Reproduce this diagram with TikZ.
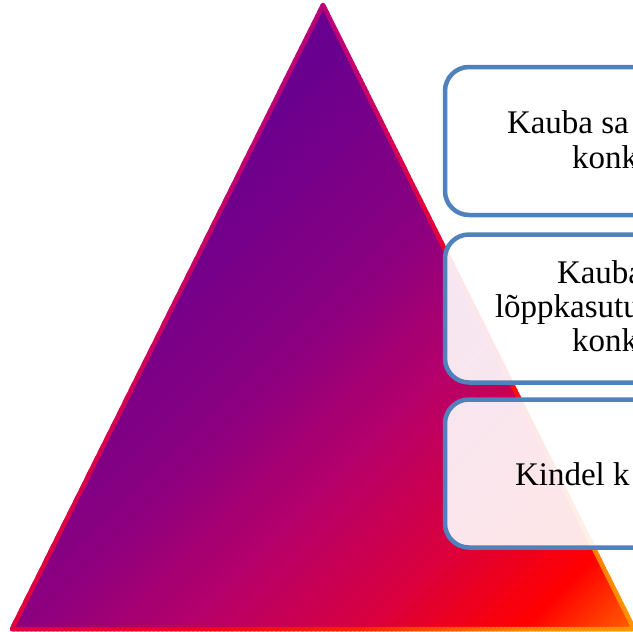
\documentclass[tikz,border=0pt]{standalone}
\usepackage{fontspec}
\setmainfont{Liberation Serif}
\definecolor{f0}{HTML}{640092}
\definecolor{f1}{HTML}{6A008E}
\definecolor{f2}{HTML}{8A0080}
\definecolor{f3}{HTML}{B5006B}
\definecolor{f4}{HTML}{D8003F}
\definecolor{f5}{HTML}{FF0000}
\definecolor{f6}{HTML}{FF7800}
\definecolor{o0}{HTML}{B8007A}
\definecolor{o1}{HTML}{C20074}
\definecolor{o2}{HTML}{E4003C}
\definecolor{o3}{HTML}{F20024}
\definecolor{o4}{HTML}{FF2200}
\definecolor{o5}{HTML}{FF8400}
\definecolor{o6}{HTML}{FF9C00}
\definecolor{boxblue}{HTML}{4F81BD}
\tikzset{
  listbox/.style={draw=boxblue, line width=4.5pt, rounded corners=24pt, fill=white, fill opacity=0.9, draw opacity=1,
    minimum width=520pt, minimum height=148pt, inner sep=0pt, outer sep=0pt, anchor=north west},
  textline/.style={anchor=base west, inner sep=0pt, outer sep=0pt, text=black, font=\fontsize{33}{36}\selectfont}
}
\begin{document}
\begin{tikzpicture}[x=1pt,y=-1pt]
\useasboundingbox (0,0) rectangle (633,632);
\clip (0,0) rectangle (633,632);
\coordinate (A) at (323,5);
\coordinate (B) at (12,629);
\coordinate (C) at (634,629);
% gradient pyramid (fill and outline), built from thin diagonal strips
\foreach \ta/\tb/\fa/\fb/\oa/\ob in {0.20/0.30/f0/f1/o0/o1, 0.30/0.50/f1/f2/o1/o2, 0.50/0.64/f2/f3/o2/o3, 0.64/0.78/f3/f4/o3/o4, 0.78/0.91/f4/f5/o4/o5, 0.91/1.02/f5/f6/o5/o6}{
  \foreach \i in {0,...,39}{
    \pgfmathsetmacro\ca{15+1249*(\ta+(\tb-\ta)*\i/40)}
    \pgfmathsetmacro\cb{15+1249*(\ta+(\tb-\ta)*(\i+1.6)/40)}
    \pgfmathsetmacro\pp{100*(\i+0.5)/40}
    \colorlet{curfill}{\fb!\pp!\fa}
    \colorlet{curline}{\ob!\pp!\oa}
    \begin{scope}
      \clip (\ca+1000,-1000) -- (\cb+1000,-1000) -- (\cb-1500,1500) -- (\ca-1500,1500) -- cycle;
      \fill[curfill] (A) -- (B) -- (C) -- cycle;
      \draw[curline, line width=4.5pt, line join=round] (A) -- (B) -- (C) -- cycle;
    \end{scope}
  }
}
% list boxes
\node[listbox] (box1) at (445,67) {};
\node[listbox] (box2) at (445,234.5) {};
\node[listbox] (box3) at (445,399.5) {};
% texts (cut by the picture's right edge, as in the reference)
\node[textline] (t1a) at (507,133.3) {Kauba sa};
\node[textline] (t1b) at (572,168) {konk};
\node[textline] (t2a) at (557,283) {Kauba};
\node[textline] (t2b) at (495,317.5) {lõppkasutu};
\node[textline] (t2c) at (572,351.5) {konk};
\node[textline] (t3a) at (515,485) {Kindel k};
\end{tikzpicture}
\end{document}
